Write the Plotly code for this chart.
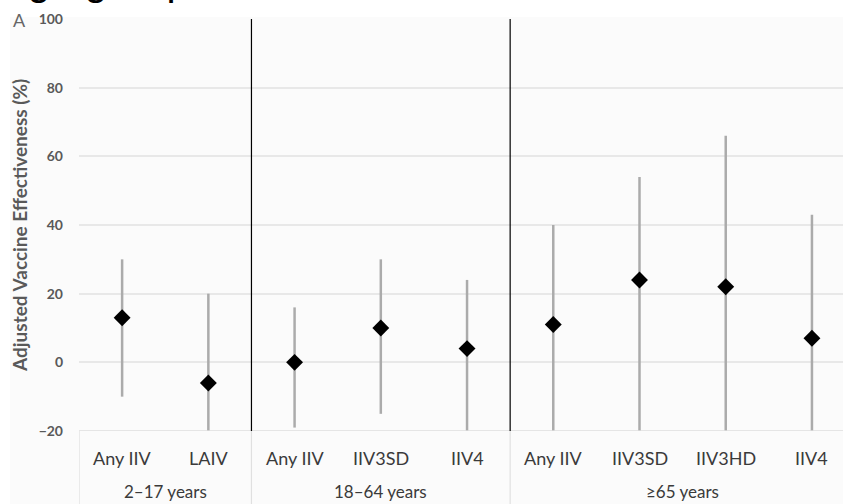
import plotly.graph_objects as go

# ---------------- data ----------------
categories = ["Any IIV", "LAIV", "Any IIV", "IIV3SD", "IIV4",
              "Any IIV", "IIV3SD", "IIV3HD", "IIV4"]
groups = ["2–17 years", "18–64 years", "≥65 years"]
group_sizes = [2, 3, 4]
ve = [13, -6, 0, 10, 4, 11, 24, 22, 7]
ci_low = [-10, -39, -19, -15, -33, -40, -26, -67, -70]
ci_high = [30, 20, 16, 30, 24, 40, 54, 66, 43]
y_ticks = [-20, 0, 20, 40, 60, 80, 100]
y_title = "Adjusted Vaccine Effectiveness (%)"
panel_label = "A"
caption_fragment = "by age group, United States,"

# ---------------- geometry helpers ----------------
W, H = 843, 504
ML, MR, MT, MB = 79, 0, 19, 73
PW, PH = W - ML - MR, H - MT - MB


def px_x(p):
    return (p - ML) / PW


def px_y(p):
    return (H - MB - p) / PH


x = list(range(len(categories)))
bounds = [-0.5]
for s in group_sizes:
    bounds.append(bounds[-1] + s)

fig = go.Figure()
fig.add_trace(go.Scatter(
    x=x, y=ve, mode="markers",
    marker=dict(symbol="diamond", size=13, color="black",
                line=dict(width=0)),
    error_y=dict(type="data", symmetric=False,
                 array=[h - v for h, v in zip(ci_high, ve)],
                 arrayminus=[v - l for v, l in zip(ve, ci_low)],
                 color="#ababab", thickness=2.5, width=0),
    showlegend=False, hoverinfo="skip",
))

shapes = []
shapes.append(dict(type="rect", xref="paper", yref="paper",
                   x0=px_x(10), x1=1.02, y0=-0.3, y1=px_y(17),
                   fillcolor="#fbfbfb", line=dict(width=0), layer="below"))
shapes.append(dict(type="line", xref="paper", yref="y", x0=0, x1=1,
                   y0=y_ticks[0], y1=y_ticks[0],
                   line=dict(color="#dedede", width=1.5), layer="above"))
for b in bounds[:-1]:
    shapes.append(dict(type="line", xref="x", yref="paper", x0=b, x1=b,
                       y0=0, y1=-0.3, line=dict(color="#e0e0e0", width=1.2)))
for b in bounds[1:-1]:
    shapes.append(dict(type="line", xref="x", yref="y", x0=b, x1=b,
                       y0=y_ticks[0], y1=y_ticks[-1],
                       line=dict(color="black", width=1.2), layer="above"))

annotations = []
lab_font = dict(family="Lato, Open Sans, sans-serif", size=18, color="#3a3a3a")
grp_font = dict(family="Lato, Open Sans, sans-serif", size=17, color="#3a3a3a")
for i, c in enumerate(categories):
    annotations.append(dict(x=i, xref="x", y=px_y(458), yref="paper",
                            text=c, showarrow=False, xanchor="center",
                            yanchor="middle", font=lab_font))
for g, a, b in zip(groups, bounds[:-1], bounds[1:]):
    annotations.append(dict(x=(a + b) / 2, xref="x", y=px_y(491), yref="paper",
                            text=g, showarrow=False, xanchor="center",
                            yanchor="middle", font=grp_font))
annotations.append(dict(x=px_x(19), xref="paper", y=px_y(226), yref="paper",
                        text=y_title, textangle=-90, showarrow=False,
                        xanchor="center", yanchor="middle",
                        font=dict(family="Lato, Open Sans, sans-serif",
                                  size=19, color="#595959", weight="bold")))
annotations.append(dict(x=px_x(19), xref="paper", y=px_y(20), yref="paper",
                        text=panel_label, showarrow=False,
                        xanchor="center", yanchor="middle",
                        font=dict(family="Lato, Open Sans, sans-serif",
                                  size=18, color="#666666")))
annotations.append(dict(x=px_x(-52), xref="paper", y=px_y(6), yref="paper",
                        text=caption_fragment, showarrow=False,
                        xanchor="left", yanchor="bottom",
                        font=dict(family="Liberation Sans, Arial, sans-serif",
                                  size=41, color="black")))

fig.update_layout(
    width=W, height=H,
    margin=dict(l=ML, r=MR, t=MT, b=MB, pad=0),
    paper_bgcolor="white", plot_bgcolor="#fbfbfb",
    shapes=shapes, annotations=annotations,
    xaxis=dict(range=[-0.5, 8.36], showticklabels=False, showgrid=False,
               zeroline=False, showline=False, ticks=""),
    yaxis=dict(range=[y_ticks[0], y_ticks[-1]], tickvals=y_ticks,
               showgrid=True, gridcolor="#e8e8e8", gridwidth=1.5,
               zeroline=False, showline=False, ticks="",
               ticklabelstandoff=15,
               tickfont=dict(family="Lato, Open Sans, sans-serif", size=14,
                             color="#595959", weight="bold")),
)

fig.write_html(
    "out.html",
    config={"displayModeBar": False},
    post_script="document.body.style.margin='0';document.body.style.padding='0';"
                "document.body.style.overflow='hidden';",
)
